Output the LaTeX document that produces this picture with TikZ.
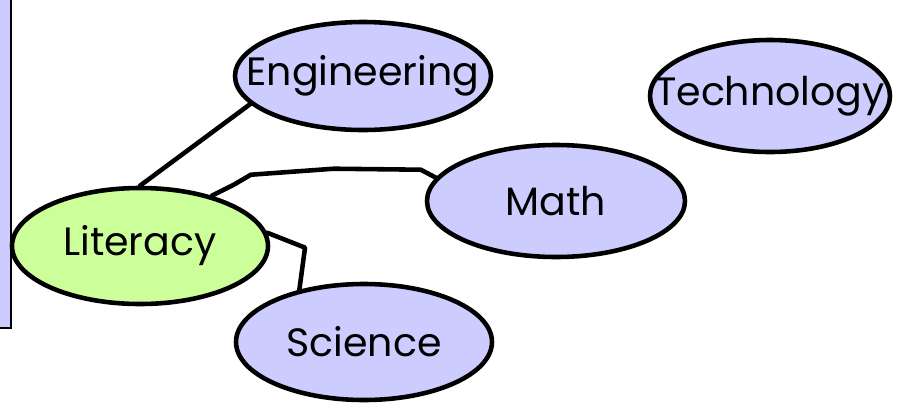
\documentclass[tikz,border=0pt]{standalone}
\usepackage{fontspec}
\setmainfont{Poppins}
\usetikzlibrary{shapes.geometric, positioning}

\definecolor{lavender}{HTML}{CCCCFF}
\definecolor{limegreen}{HTML}{CCFF99}

\begin{document}
\begin{tikzpicture}[
    x=0.02cm, y=-0.02cm,
    every node/.style={ellipse, draw, line width=2.6pt, inner xsep=-18pt, inner ysep=0pt, fill=lavender, font=\fontsize{22.5}{26}\selectfont},
    link/.style={line width=2.6pt, line join=round, line cap=round}
]

    \clip (0,0) rectangle (897,410);

    % Side panel
    \draw[line width=1.6pt, fill=lavender] (-10,-10) rectangle (11,328);

    % Nodes
    \node[minimum width=256*0.02cm, minimum height=108*0.02cm] (eng) at (363,76) {Engineering};
    \node[minimum width=240*0.02cm, minimum height=112*0.02cm] (tech) at (770,96) {Technology};
    \node[minimum width=258*0.02cm, minimum height=112*0.02cm] (math) at (556,201) {Math};
    \node[minimum width=256*0.02cm, minimum height=116*0.02cm, fill=limegreen] (lit) at (140,246) {Literacy};
    \node[minimum width=256*0.02cm, minimum height=116*0.02cm] (sci) at (364,342) {Science};

    % Connections
    \draw[link] (lit.north) -- (eng.194);
    \draw[link] (lit.35) -- ++(22,-11) -- ++(17,-10) -- ++(83,-6) -- ++(87,1) -- (math.169);
    \draw[link] (lit.6) -- ++(38,15) -- (sci.141);
\end{tikzpicture}
\end{document}
